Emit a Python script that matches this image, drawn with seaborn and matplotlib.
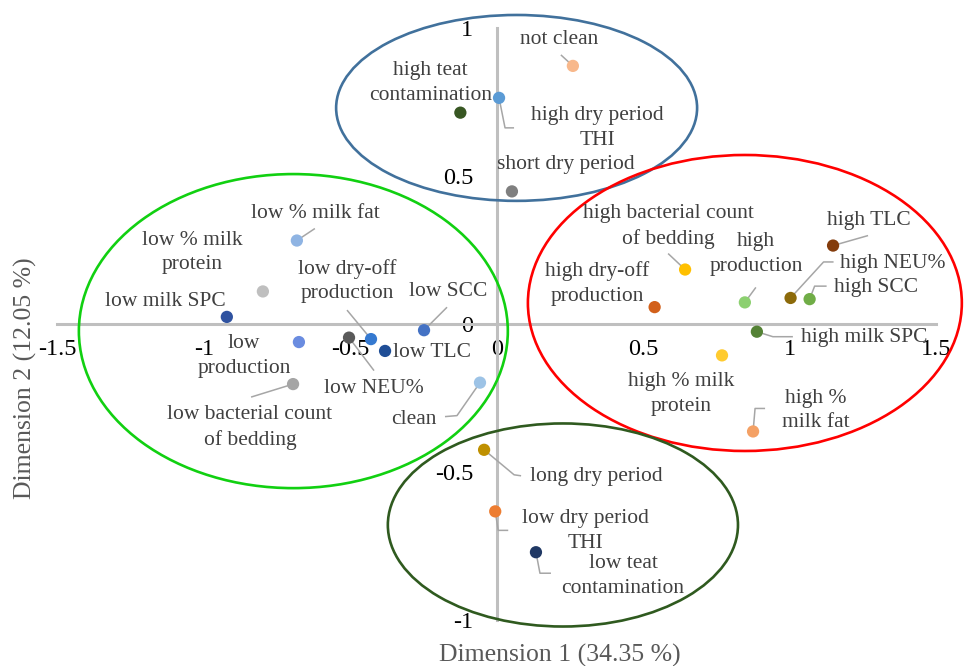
"""
plot.py
Correspondence analysis map (Dimension 1 x Dimension 2) with the four
groups of categories circled by ellipses. Saves out.png.
"""

import matplotlib

matplotlib.use("Agg")
import matplotlib.pyplot as plt
import numpy as np
import seaborn as sns
from matplotlib.patches import Ellipse

# category coordinates
categories = [
    "not clean", "high dry period\nTHI", "high teat\ncontamination", "short dry period",
    "low % milk fat", "low % milk\nprotein", "low milk SPC", "low\nproduction",
    "low NEU%", "low dry-off\nproduction", "low TLC", "low SCC",
    "low bacterial count\nof bedding", "clean", "high bacterial count\nof bedding",
    "high dry-off\nproduction", "high\nproduction", "high TLC", "high NEU%", "high SCC",
    "high milk SPC", "high % milk\nprotein", "high %\nmilk fat", "long dry period",
    "low dry period\nTHI", "low teat\ncontamination",
]
dim1 = [0.259, 0.007, -0.125, 0.051, -0.683, -0.799, -0.922, -0.676, -0.505, -0.430,
        -0.382, -0.249, -0.696, -0.058, 0.642, 0.538, 0.846, 1.147, 1.002, 1.067,
        0.887, 0.768, 0.874, -0.044, -0.006, 0.133]
dim2 = [0.872, 0.764, 0.714, 0.448, 0.282, 0.110, 0.024, -0.061, -0.046, -0.051,
        -0.091, -0.021, -0.203, -0.198, 0.184, 0.057, 0.073, 0.265, 0.088, 0.084,
        -0.026, -0.106, -0.363, -0.425, -0.633, -0.771]

x_ticks = [-1.5, -1, -0.5, 0, 0.5, 1, 1.5]
x_tick_labels = ["-1.5", "-1", "-0.5", "0", "0.5", "1", "1.5"]
y_ticks = [-1, -0.5, 0, 0.5, 1]
y_tick_labels = ["-1", "-0.5", "0", "0.5", "1"]

# group outlines: centre x, centre y, width, height
groups = {
    "top": (0.067, 0.730, 1.232, 0.628),
    "left": (-0.695, -0.024, 1.464, 1.061),
    "right": (0.846, 0.071, 1.481, 1.000),
    "bottom": (0.225, -0.679, 1.195, 0.686),
}

# --- styling -------------------------------------------------------------
point_colors = [
    "#F8B88B", "#5B9BD5", "#385723", "#7F7F7F", "#8FB4E3", "#BFBFBF", "#2F52A0",
    "#6A8CE0", "#5A5A5A", "#3579D0", "#1F4E96", "#4472C4", "#A5A5A5", "#9DC3E6",
    "#FFC000", "#D2601A", "#8CD070", "#843C0C", "#8C6A0A", "#70AD47", "#548235",
    "#FFCB2F", "#F4A165", "#BF9000", "#ED7D31", "#203864",
]
group_colors = {"top": "#41719C", "left": "#11D011", "right": "#FF0000", "bottom": "#2F5A1F"}

# label centre offsets from the point, in pixels (right, down)
label_offsets = [
    (-14, -26), (98, 30), (-30, -30), (54, -27), (19, -27), (-71, -39), (-61, -15),
    (-55, 14), (25, 51), (-24, -58), (47, 2), (24, -39), (-43, 43), (-66, 37),
    (-17, -43), (-57, -24), (11, -48), (36, -25), (102, -34), (66, -12), (107, 6),
    (-41, 39), (63, -21), (112, 27), (90, 20), (87, 24),
]
# leader line vertices from the point, in pixels (right, down); None = no leader
leaders = [
    [(0, 0), (-12, -11)], [(0, 0), (6, 30), (15, 30)], None, None,
    [(0, 0), (18, -12)], None, None, None,
    [(0, 0), (25, 33)], [(0, 0), (-24, -29)], None, [(0, 0), (23, -23)],
    [(0, 0), (-42, 13)], [(0, 0), (-23, 33), (-35, 34)], [(0, 0), (-17, -16)],
    None, [(0, 0), (11, -15)], [(0, 0), (35, -10)], [(0, 0), (33, -36), (43, -36)],
    [(0, 0), (5, -13), (17, -13)], [(0, 0), (16, 5), (36, 5)], None,
    [(0, 0), (2, -23), (12, -23)], [(0, 0), (30, 25), (37, 26)],
    [(0, 0), (3, 19), (13, 19)], [(0, 0), (4, 21), (15, 21)],
]

sns.set_theme(style="white")
plt.rcParams["font.family"] = ["Liberation Serif", "DejaVu Serif"]
plt.rcParams["axes.unicode_minus"] = False

fig = plt.figure(figsize=(9.64, 6.66), dpi=100)
ax = fig.add_axes([0, 0, 1, 1])
ax.set_xlim(-1.6962, 1.5939)
ax.set_ylim(-1.1554, 1.0946)

# axes crossing at the origin, Excel style
for side in ["top", "right"]:
    ax.spines[side].set_visible(False)
ax.spines["left"].set_position(("data", 0))
ax.spines["bottom"].set_position(("data", 0))
ax.spines["left"].set_bounds(-1, 1)
ax.spines["bottom"].set_bounds(-1.5, 1.5)
for side in ["left", "bottom"]:
    ax.spines[side].set_color("#BFBFBF")
    ax.spines[side].set_linewidth(2.2)
ax.set_xticks(x_ticks, x_tick_labels)
ax.set_yticks(y_ticks, y_tick_labels)
ax.tick_params(axis="x", length=0, pad=11, labelsize=17.5, colors="black")
ax.tick_params(axis="y", length=0, pad=17, labelsize=17.5, colors="black")

ax.set_xlabel("Dimension 1 (34.35 %)", fontsize=18.5, color="#595959", va="center")
ax.xaxis.set_label_coords(560 / 964, 1 - 655 / 666)
ax.set_ylabel("Dimension 2 (12.05 %)", fontsize=18.5, color="#595959", va="center")
ax.yaxis.set_label_coords(25 / 964, 1 - 378 / 666)

for name, (cx, cy, w, h) in groups.items():
    ax.add_patch(Ellipse((cx, cy), w, h, fill=False, edgecolor=group_colors[name],
                         linewidth=1.9, zorder=3))

sns.scatterplot(x=dim1, y=dim2, hue=categories, palette=point_colors, s=78,
                linewidth=0, legend=False, ax=ax, zorder=5)

fig.canvas.draw()
to_disp = ax.transData
to_data = ax.transData.inverted()
for x, y, path in zip(dim1, dim2, leaders):
    if path is None:
        continue
    px, py = to_disp.transform((x, y))
    verts = np.array([(px + dx, py - dy) for dx, dy in path])
    pts = to_data.transform(verts)
    ax.plot(pts[:, 0], pts[:, 1], color="#A6A6A6", linewidth=1.1, zorder=4,
            solid_capstyle="butt")

for name, x, y, (dx, dy) in zip(categories, dim1, dim2, label_offsets):
    ax.annotate(name, xy=(x, y), xytext=(dx, -dy), textcoords="offset pixels",
                ha="center", va="center", multialignment="center",
                fontsize=15.5, color="#404040", linespacing=1.42, zorder=6)

fig.savefig("out.png", dpi=100)
